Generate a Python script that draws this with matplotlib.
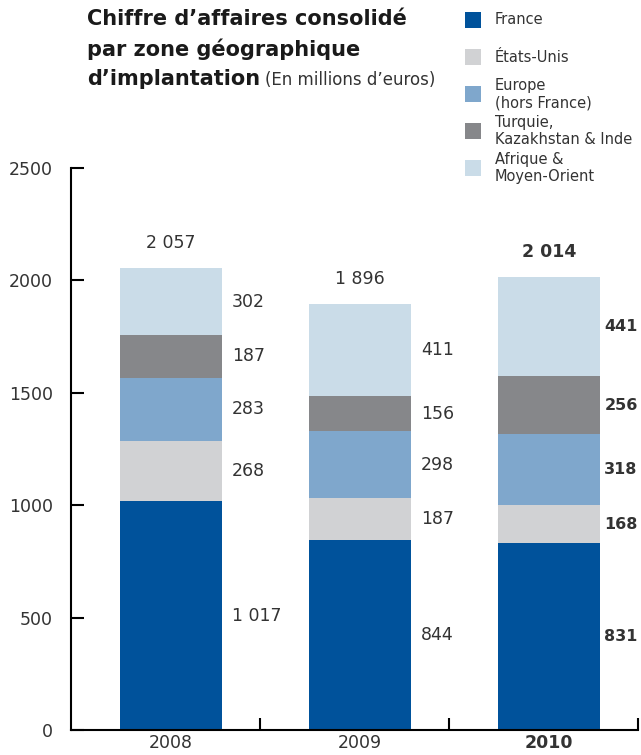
import numpy as np
import matplotlib.pyplot as plt
from matplotlib.patches import Rectangle

plt.rcParams['font.family'] = ['DejaVu Sans']

# chiffre d'affaires par zone (M EUR)
years = ['2008', '2009', '2010']
france = [1017, 844, 831]
etats_unis = [268, 187, 168]
europe = [283, 298, 318]
turquie = [187, 156, 256]
afrique = [302, 411, 441]
totals = [2057, 1896, 2014]

zones = ['France', 'États-Unis', 'Europe\n(hors France)',
         'Turquie,\nKazakhstan & Inde', 'Afrique &\nMoyen-Orient']
colors = ['#00529b', '#d1d2d4', '#7fa7cc', '#86878a', '#cadce8']
series = [france, etats_unis, europe, turquie, afrique]

def fmt(v):
    return f'{v:,}'.replace(',', ' ')

fig = plt.figure(figsize=(6.41, 7.55), dpi=100)
ax = fig.add_axes([71 / 641, 25 / 755, 567 / 641, 562 / 755])

x = np.arange(len(years)) + 0.53
width = 0.54
bottom = np.zeros(len(years))
txt = '#333333'
for vals, col in zip(series, colors):
    vals = np.array(vals)
    ax.bar(x, vals, width, bottom=bottom, color=col, linewidth=0)
    for i, v in enumerate(vals):
        last = i == len(years) - 1
        ax.annotate(fmt(v), (x[i] + width / 2, bottom[i] + v / 2),
                    xytext=(3 if last else 7, 0), textcoords='offset points',
                    ha='left', va='center', fontsize=11.5 if last else 12.5,
                    color=txt, fontweight='bold' if last else 'normal')
    bottom += vals

for i, t in enumerate(totals):
    ax.annotate(fmt(t), (x[i], t), xytext=(0, 18), textcoords='offset points',
                ha='center', va='center', fontsize=12.5, color=txt,
                fontweight='bold' if i == 2 else 'normal')

ax.set_xlim(0, 3)
ax.set_ylim(0, 2500)
for s in ['top', 'right']:
    ax.spines[s].set_visible(False)
for s in ['left', 'bottom']:
    ax.spines[s].set_linewidth(1.5)

ax.set_yticks(range(0, 2501, 500))
ax.tick_params(axis='y', direction='in', length=9, width=1.5, pad=13,
               labelsize=12.5, labelcolor=txt)
ax.set_xticks([1, 2, 3])
ax.set_xticklabels([])
ax.tick_params(axis='x', which='major', direction='in', length=9, width=1.5)
ax.set_xticks(x, minor=True)
ax.set_xticklabels(years, minor=True)
ax.tick_params(axis='x', which='minor', length=0, pad=3, labelsize=12.5,
               labelcolor=txt)
ax.get_xticklabels(minor=True)[2].set_fontweight('bold')

# titre
fig.text(87 / 641, 1 - 19 / 755, 'Chiffre d’affaires consolidé',
         fontsize=15, fontweight='bold', color='#1a1a1a', va='center')
fig.text(87 / 641, 1 - 49 / 755, 'par zone géographique',
         fontsize=15, fontweight='bold', color='#1a1a1a', va='center')
t = fig.text(87 / 641, 1 - 79 / 755, 'd’implantation',
             fontsize=15, fontweight='bold', color='#1a1a1a', va='center')
fig.canvas.draw()
bb = t.get_window_extent().transformed(fig.transFigure.inverted())
fig.text(bb.x1 + 5 / 641, 1 - 80 / 755, '(En millions d’euros)',
         fontsize=12, color=txt, va='center')

# légende
ys = [20, 57, 94, 131, 168]
for label, col, yc in zip(zones, colors, ys):
    fig.patches.append(Rectangle((465 / 641, 1 - (yc + 8) / 755), 16 / 641, 16 / 755,
                                 transform=fig.transFigure, color=col, lw=0))
    fig.text(495 / 641, 1 - yc / 755, label, fontsize=10.5, color=txt,
             va='center', ha='left', linespacing=1.2)

fig.savefig('out.png', dpi=100)
